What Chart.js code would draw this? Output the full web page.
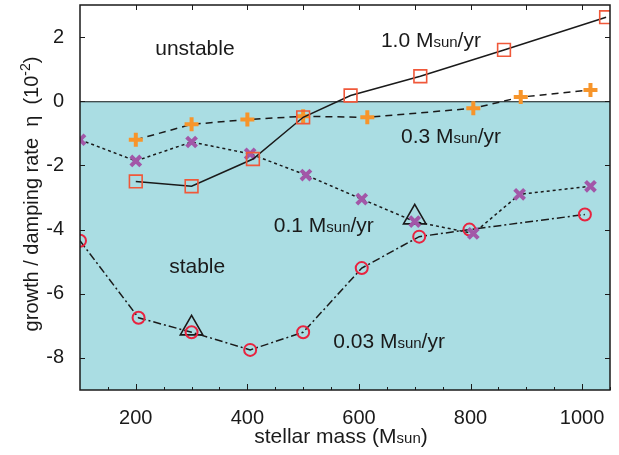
<!DOCTYPE html>
<html lang="en">
<head>
    <meta charset="UTF-8">
    <title>growth / damping rate vs stellar mass</title>
    <script src="https://cdn.jsdelivr.net/npm/chart.js"></script>
    <style>
        body { margin: 0; background: #ffffff; }
        canvas { display: block; }
    </style>
</head>
<body>
    <canvas id="etaChart" width="619" height="455"></canvas>
    <script>
        // values (eta in units of 1e-2)
        var mass10 = [200, 300, 410, 500, 585, 710, 860, 1043];
        var eta10 = [-2.5, -2.65, -1.8, -0.5, 0.18, 0.78, 1.6, 2.62];

        var mass03 = [200, 300, 400, 500, 615, 805, 890, 1015];
        var eta03 = [-1.2, -0.72, -0.57, -0.47, -0.5, -0.22, 0.13, 0.35];

        var mass01 = [100, 200, 300, 405, 505, 605, 700, 805, 888, 1015];
        var eta01 = [-1.2, -1.86, -1.27, -1.64, -2.3, -3.05, -3.75, -4.12, -2.9, -2.65];

        var mass003 = [100, 205, 300, 405, 500, 605, 708, 798, 1005];
        var eta003 = [-4.35, -6.75, -7.2, -7.75, -7.2, -5.2, -4.22, -4.0, -3.53];

        var massTri = [300, 700];
        var etaTri = [-7.08, -3.62];

        var xTicks = [200, 400, 600, 800, 1000];
        var yTicks = [-8, -6, -4, -2, 0, 2];

        var FONT = '"Liberation Sans", Arial, Helvetica, sans-serif';
        var INK = '#1a1a1a';

        function pts(xs, ys) {
            return xs.map(function (x, i) { return { x: x, y: ys[i] }; });
        }

        // text with small "sun" parts etc.: segs = [[text, size, rise], ...]
        function drawRich(ctx, x, y, segs, align) {
            var total = 0;
            segs.forEach(function (s) {
                ctx.font = s[1] + 'px ' + FONT;
                s.w = ctx.measureText(s[0]).width;
                total += s.w;
            });
            var cx = align === 'center' ? x - total / 2 : x;
            ctx.textAlign = 'left';
            ctx.textBaseline = 'alphabetic';
            segs.forEach(function (s) {
                ctx.font = s[1] + 'px ' + FONT;
                ctx.fillText(s[0], cx, y - (s[2] || 0));
                cx += s.w;
            });
        }

        function rate(v) {
            return [[v + ' M', 21], ['sun', 15], ['/yr', 21]];
        }

        var decor = {
            id: 'decor',
            beforeDatasetsDraw: function (chart) {
                var ctx = chart.ctx, a = chart.chartArea;
                var y0 = chart.scales.y.getPixelForValue(0);
                ctx.save();
                ctx.fillStyle = '#aadde3';
                ctx.fillRect(a.left, y0, a.right - a.left, a.bottom - y0);
                ctx.strokeStyle = INK;
                ctx.lineWidth = 1;
                ctx.beginPath();
                ctx.moveTo(a.left, y0 + 0.5);
                ctx.lineTo(a.right, y0 + 0.5);
                ctx.stroke();
                ctx.restore();
            },
            afterDraw: function (chart) {
                var ctx = chart.ctx, a = chart.chartArea;
                var xs = chart.scales.x, ys = chart.scales.y;
                ctx.save();
                ctx.strokeStyle = INK;
                ctx.lineWidth = 1.5;
                ctx.strokeRect(a.left, a.top, a.right - a.left, a.bottom - a.top);

                ctx.lineWidth = 1;
                ctx.beginPath();
                for (var m = 150; m <= 1050; m += 50) {
                    var px = Math.round(xs.getPixelForValue(m)) + 0.5;
                    var len = (m % 200 === 0) ? 6 : 3;
                    ctx.moveTo(px, a.bottom);
                    ctx.lineTo(px, a.bottom - len);
                    if (m % 100 === 0) {
                        ctx.moveTo(px, a.top);
                        ctx.lineTo(px, a.top + 5);
                    }
                }
                yTicks.forEach(function (v) {
                    var py = Math.round(ys.getPixelForValue(v)) + 0.5;
                    ctx.moveTo(a.left, py);
                    ctx.lineTo(a.left + 5, py);
                    ctx.moveTo(a.right, py);
                    ctx.lineTo(a.right - 5, py);
                });
                ctx.stroke();

                ctx.fillStyle = INK;
                drawRich(ctx, xs.getPixelForValue(306), ys.getPixelForValue(1.44), [['unstable', 21]], 'center');
                drawRich(ctx, xs.getPixelForValue(310), ys.getPixelForValue(-5.35), [['stable', 21]], 'center');

                drawRich(ctx, xs.getPixelForValue(729), ys.getPixelForValue(1.69), rate('1.0'), 'center');
                drawRich(ctx, xs.getPixelForValue(765), ys.getPixelForValue(-1.3), rate('0.3'), 'center');
                drawRich(ctx, xs.getPixelForValue(537), ys.getPixelForValue(-4.08), rate('0.1'), 'center');
                drawRich(ctx, xs.getPixelForValue(654), ys.getPixelForValue(-7.69), rate('0.03'), 'center');

                // axis titles
                drawRich(ctx, 341, 443,
                    [['stellar mass (M', 21], ['sun', 15], [')', 21]], 'center');

                ctx.translate(38, 194);
                ctx.rotate(-Math.PI / 2);
                drawRich(ctx, 0, 0,
                    [['growth / damping rate  \u03b7  (10', 20], ['-2', 14, 8], [')', 20]], 'center');
                ctx.restore();
            }
        };

        var ctx = document.getElementById('etaChart').getContext('2d');
        new Chart(ctx, {
            type: 'scatter',
            data: {
                datasets: [
                    {
                        label: '1.0 Msun/yr',
                        data: pts(mass10, eta10),
                        showLine: true,
                        borderColor: INK,
                        borderWidth: 1.5,
                        pointStyle: 'rect',
                        pointRadius: 9,
                        pointBorderColor: '#f0583a',
                        pointBorderWidth: 1.6,
                        pointBackgroundColor: 'rgba(0,0,0,0)'
                    },
                    {
                        label: '0.3 Msun/yr',
                        data: pts(mass03, eta03),
                        showLine: true,
                        borderColor: INK,
                        borderWidth: 1.5,
                        borderDash: [7, 5],
                        pointStyle: 'cross',
                        pointRadius: 7,
                        pointBorderColor: '#f7952b',
                        pointBorderWidth: 4,
                        pointBackgroundColor: '#f7952b'
                    },
                    {
                        label: '0.1 Msun/yr',
                        data: pts(mass01, eta01),
                        showLine: true,
                        borderColor: INK,
                        borderWidth: 1.5,
                        borderDash: [3, 3],
                        pointStyle: 'crossRot',
                        pointRadius: 7,
                        pointBorderColor: '#a257a8',
                        pointBorderWidth: 4,
                        pointBackgroundColor: '#a257a8'
                    },
                    {
                        label: '0.03 Msun/yr',
                        data: pts(mass003, eta003),
                        showLine: true,
                        borderColor: INK,
                        borderWidth: 1.5,
                        borderDash: [8, 3, 2, 3],
                        pointStyle: 'circle',
                        pointRadius: 6,
                        pointBorderColor: '#e8233f',
                        pointBorderWidth: 2,
                        pointBackgroundColor: 'rgba(0,0,0,0)'
                    },
                    {
                        label: 'marked',
                        data: pts(massTri, etaTri),
                        showLine: false,
                        pointStyle: 'triangle',
                        pointRadius: 13,
                        pointBorderColor: INK,
                        pointBorderWidth: 1.6,
                        pointBackgroundColor: 'rgba(0,0,0,0)'
                    }
                ]
            },
            options: {
                responsive: false,
                animation: false,
                devicePixelRatio: 1,
                layout: { autoPadding: false, padding: { top: 5, right: 9, left: 0, bottom: 0 } },
                plugins: {
                    legend: { display: false },
                    tooltip: { enabled: false }
                },
                scales: {
                    x: {
                        type: 'linear',
                        min: 100,
                        max: 1050,
                        grid: { display: false },
                        border: { display: false },
                        afterBuildTicks: function (s) { s.ticks = xTicks.map(function (v) { return { value: v }; }); },
                        afterFit: function (s) { s.height = 65; s.paddingLeft = 0; s.paddingRight = 0; },
                        ticks: {
                            color: INK, padding: 8, maxRotation: 0, font: { family: FONT, size: 20 },
                            callback: function (v) { return String(v); }
                        }
                    },
                    y: {
                        type: 'linear',
                        min: -9,
                        max: 3,
                        grid: { display: false },
                        border: { display: false },
                        afterBuildTicks: function (s) { s.ticks = yTicks.map(function (v) { return { value: v }; }); },
                        afterFit: function (s) { s.width = 80; s.paddingTop = 0; s.paddingBottom = 0; },
                        ticks: {
                            color: INK, padding: 8, font: { family: FONT, size: 20 },
                            callback: function (v) { return String(v); }
                        }
                    }
                }
            },
            plugins: [decor]
        });
    </script>
</body>
</html>
